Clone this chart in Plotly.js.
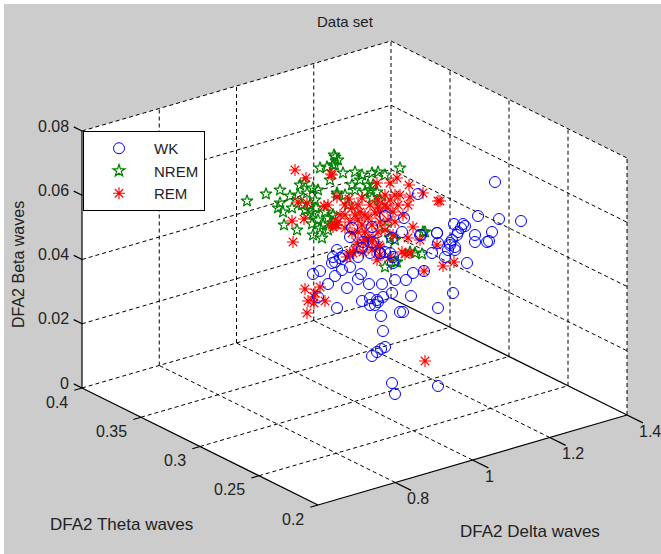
<!DOCTYPE html>
<html>
<head>
<meta charset="utf-8">
<script src="https://cdn.plot.ly/plotly-3.0.1.min.js"></script>
<style>html,body{margin:0;padding:0;background:#fff}#chart{width:661px;height:554px}</style>
</head>
<body>
<div id="chart"></div>
<script>
// Tick values of the three axes
const deltaTicks = [0.8, 1, 1.2, 1.4];
const thetaTicks = [0.2, 0.25, 0.3, 0.35, 0.4];
const betaTicks = [0, 0.02, 0.04, 0.06, 0.08];
const betaLabels = ['0', '0.02', '0.04', '0.06', '0.08'];
const deltaLabels = ['0.8', '1', '1.2', '1.4'];
const thetaLabels = ['0.2', '0.25', '0.3', '0.35', '0.4'];

// Series, as positions in the projected view plane
const wkX = [495,478,499,521,492,475,475,487,489,454,463,461,458,465,437,438,450,455,448,445,467,432,452,457,
  335,332,340,342,350,320,313,335,328,361,358,369,382,395,347,318,337,362,370,377,383,370,375,378,392,400,381,383,385,381,377,372,
  406,413,424,411,453,403,438,420,450,455,393,392,380,385,390,
  418,385,404,352,350,372,437,421,402,337,363,373,362,370,380,393,358,343,333,
  392,395,438];
const wkY = [182,216,219,221,232,235,242,242,241,224,224,228,232,226,233,243,245,247,250,257,263,253,240,235,
  262,263,258,270,267,271,274,276,284,274,279,284,284,280,288,297,308,301,298,300,297,305,305,302,293,312,316,331,347,349,352,356,
  280,273,271,296,293,312,308,235,243,250,263,238,253,252,253,
  194,216,218,228,237,227,233,235,232,250,242,242,248,253,253,257,257,256,257,
  383,394,386];
const nremX = [247,266,280,280,278,283,284,297,313,320,327,334,333,338,298,307,313,318,302,310,315,305,313,318,323,320,328,333,328,337,
  335,335,343,362,372,385,400,337,370,377,348,333,333,385,425,390,368,373,365,380,
  397,385,415,422,410,395,423,395,292,300,322,330,355,378,308,316,325,290,304,312,345,355,360,352,372];
const nremY = [201,194,190,203,208,212,225,230,235,168,167,155,165,160,195,193,188,190,205,205,200,210,213,220,225,228,218,215,230,195,
  157,165,173,175,173,175,168,193,190,192,205,215,223,227,232,238,185,185,192,200,
  262,267,253,254,252,240,232,262,208,185,238,180,172,172,215,208,212,196,183,224,195,190,180,185,198];
const remX = [295,306,331,298,324,328,292,304,293,307,333,338,337,
  332,377,390,397,409,337,349,362,378,410,438,398,408,393,360,355,365,375,368,358,403,413,408,393,379,368,363,373,352,402,350,380,332,335,410,378,387,423,
  440,437,443,454,405,424,420,377,363,380,390,365,372,
  305,320,315,308,314,314,325,307,350,353,347,425,
  352,358,370,345,350,362,372,380,388,395,345,358,365,378,385,357,372,355,385,395,345,340,385,400,390,380];
const remY = [170,178,174,202,206,205,221,219,242,203,227,222,225,
  175,183,183,178,185,197,199,198,200,197,201,205,205,212,212,215,215,213,218,220,215,227,238,235,245,238,243,238,233,252,253,255,225,225,253,207,208,193,
  201,245,266,262,254,271,240,260,252,247,257,240,242,
  289,287,293,301,297,303,301,313,255,253,257,361,
  208,205,205,215,222,225,225,222,220,222,228,232,232,232,230,243,250,250,195,195,205,215,205,195,200,212];

// Axis-to-view-plane mapping of the box
const deltaMin = 0.6, deltaMax = 1.4, thetaMin = 0.2, thetaMax = 0.4, betaMax = 0.08;
function proj(d, t, b) {
  const u = (d - deltaMin) / (deltaMax - deltaMin);
  const v = (t - thetaMin) / (thetaMax - thetaMin);
  const w = b / betaMax;
  return [318 + 309 * u - 236 * v, 505 - 90 * u - 117 * v - 257 * w];
}
function lineTrace(segs, line) {
  const x = [], y = [];
  segs.forEach(s => {
    const a = proj(...s[0]), c = proj(...s[1]);
    x.push(a[0], c[0], null); y.push(a[1], c[1], null);
  });
  return {x, y, mode: 'lines', line, showlegend: false, hoverinfo: 'skip', type: 'scatter'};
}
const dotted = {color: '#000', width: 1, dash: '4px,3px'};
const solid = {color: '#000', width: 1.2};

const gridSegs = [];
deltaTicks.slice(0, 3).forEach(d => {
  gridSegs.push([[d, thetaMin, 0], [d, thetaMax, 0]]);
  gridSegs.push([[d, thetaMax, 0], [d, thetaMax, betaMax]]);
});
thetaTicks.slice(1, 4).forEach(t => {
  gridSegs.push([[deltaMin, t, 0], [deltaMax, t, 0]]);
  gridSegs.push([[deltaMax, t, 0], [deltaMax, t, betaMax]]);
});
betaTicks.slice(1).forEach(b => {
  gridSegs.push([[deltaMin, thetaMax, b], [deltaMax, thetaMax, b]]);
  gridSegs.push([[deltaMax, thetaMax, b], [deltaMax, thetaMin, b]]);
});
gridSegs.push([[deltaMin, thetaMax, 0], [deltaMax, thetaMax, 0]]);
gridSegs.push([[deltaMax, thetaMax, 0], [deltaMax, thetaMax, betaMax]]);
gridSegs.push([[deltaMax, thetaMin, 0], [deltaMax, thetaMin, betaMax]]);

const edgeSegs = [
  [[deltaMin, thetaMax, 0], [deltaMin, thetaMax, betaMax]],
  [[deltaMin, thetaMax, 0], [deltaMin, thetaMin, 0]],
  [[deltaMin, thetaMin, 0], [deltaMax, thetaMin, 0]],
  [[deltaMax, thetaMax, 0], [deltaMax, thetaMin, 0]]
];
// Tick marks
deltaTicks.forEach(d => edgeSegs.push([[d, thetaMin, 0], [d, thetaMin - 0.0135, 0]]));
thetaTicks.forEach(t => edgeSegs.push([[deltaMin, t, 0], [deltaMin - 0.02, t, 0]]));
betaTicks.forEach(b => edgeSegs.push([[deltaMin, thetaMax, b], [deltaMin, thetaMax + 0.007, b]]));

const hex = [[deltaMin,thetaMax,betaMax],[deltaMax,thetaMax,betaMax],[deltaMax,thetaMin,betaMax],[deltaMax,thetaMin,0],[deltaMin,thetaMin,0],[deltaMin,thetaMax,0]]
  .map(p => proj(...p));
const hexPath = 'M' + hex.map(p => p.join(',')).join('L') + 'Z';

const font = {family: '"Liberation Sans", Arial, sans-serif', size: 16, color: '#222'};
const ann = [];
function label(text, x, y, xanchor, extra, size) {
  ann.push(Object.assign({text, x, y, xref: 'x', yref: 'y', xanchor, yanchor: 'middle', showarrow: false,
    font: Object.assign({}, font, {size: size || 16}), borderpad: 0}, extra || {}));
}
betaTicks.forEach((b, i) => { const p = proj(deltaMin, thetaMax, b); label(betaLabels[i], 70, p[1] - 5, 'right'); });
thetaTicks.forEach((t, i) => { const p = proj(deltaMin, t, 0); label(thetaLabels[i], p[0] - 13, p[1] + 14, 'right'); });
deltaTicks.forEach((d, i) => { const p = proj(d, thetaMin, 0); label(deltaLabels[i], p[0] + 11, p[1] + 16, 'left'); });
label('Data set', 345, 21, 'center', null, 15);
label('DFA2 Delta waves', 530, 531, 'center', null, 17);
label('DFA2 Theta waves', 121, 524, 'center', null, 17);
label('DFA2 Beta waves', 18, 265, 'center', {textangle: -90});

const traces = [
  lineTrace(gridSegs, dotted),
  lineTrace(edgeSegs, solid),
  {type: 'scatter', mode: 'markers', name: 'NREM', legendrank: 2, x: nremX, y: nremY,
   marker: {symbol: 'star-open', size: 9, color: '#008000', line: {width: 1.2, color: '#008000'}}},
  {type: 'scatter', mode: 'markers', name: 'REM', legendrank: 3, x: remX, y: remY,
   marker: {symbol: 'asterisk-open', size: 10, color: '#ff0000', line: {width: 1.1, color: '#ff0000'}}},
  {type: 'scatter', mode: 'markers', name: 'WK', legendrank: 1, x: wkX, y: wkY,
   marker: {symbol: 'circle-open', size: 11, color: '#0000ff', line: {width: 1, color: '#0000ff'}}}
];

const layout = {
  width: 661, height: 554,
  margin: {l: 0, r: 0, t: 0, b: 0},
  paper_bgcolor: '#ffffff', plot_bgcolor: 'rgba(0,0,0,0)',
  font,
  xaxis: {range: [0, 661], visible: false, fixedrange: true},
  yaxis: {range: [554, 0], visible: false, fixedrange: true},
  shapes: [
    {type: 'rect', layer: 'below', xref: 'x', yref: 'y', x0: 4, x1: 661, y0: 4, y1: 554, fillcolor: '#cccccc', line: {width: 0}},
    {type: 'path', layer: 'below', xref: 'x', yref: 'y', path: hexPath, fillcolor: '#ffffff', line: {width: 0}}
  ],
  annotations: ann,
  legend: {x: 83 / 661, y: 1 - 131 / 554, xanchor: 'left', yanchor: 'top', bgcolor: '#ffffff',
           bordercolor: '#000', borderwidth: 1, itemwidth: 60, entrywidth: 58, entrywidthmode: 'pixels',
           font: Object.assign({}, font, {size: 15}), tracegroupgap: 0, itemclick: false, itemdoubleclick: false}
};
Plotly.newPlot('chart', traces, layout, {displayModeBar: false, staticPlot: true});
</script>
</body>
</html>
